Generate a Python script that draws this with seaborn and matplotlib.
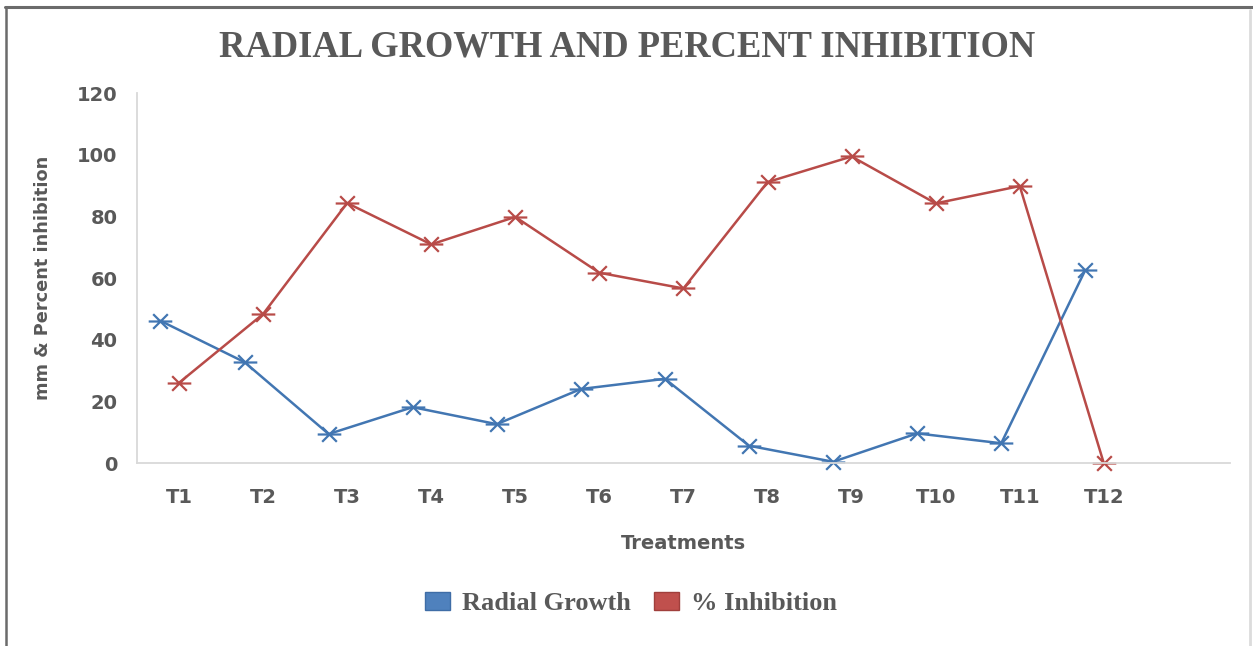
import numpy as np
import pandas as pd
import matplotlib
matplotlib.use("Agg")
import matplotlib.pyplot as plt
from matplotlib.path import Path
from matplotlib.patches import Patch
from matplotlib.lines import Line2D
import seaborn as sns

# Treatments and measured values
treatments = ["T1", "T2", "T3", "T4", "T5", "T6", "T7", "T8", "T9", "T10", "T11", "T12"]
radial_growth = [46.2, 32.8, 9.5, 18.2, 12.7, 24.1, 27.4, 5.7, 0.5, 9.7, 6.5, 62.7]
inhibition = [26.1, 48.4, 84.4, 71.0, 79.9, 61.8, 56.7, 91.2, 99.5, 84.3, 89.9, 0.0]
y_ticks = [0, 20, 40, 60, 80, 100, 120]

sns.set_theme(style="white")
plt.rcParams["font.family"] = ["DejaVu Sans"]

BLUE = "#4276b2"
RED = "#b84b48"
GREY = "#595959"

# Asterisk-style marker: an X crossed by a horizontal bar
star = Path(
    [(-0.62, -0.62), (0.62, 0.62), (-0.62, 0.62), (0.62, -0.62), (-1.0, 0.0), (1.0, 0.0)],
    [Path.MOVETO, Path.LINETO, Path.MOVETO, Path.LINETO, Path.MOVETO, Path.LINETO],
)

idx = np.arange(len(treatments))
growth_df = pd.DataFrame({"pos": idx - 0.22, "value": radial_growth})
inhib_df = pd.DataFrame({"pos": idx, "value": inhibition})

fig = plt.figure(figsize=(12.53, 6.46), dpi=100)
ax = fig.add_axes([0.1093, 0.2828, 0.8723, 0.5728])

line_kw = dict(linewidth=1.8, marker=star, markersize=17, markeredgewidth=1.6,
               markerfacecolor="none", legend=False)
sns.lineplot(data=growth_df, x="pos", y="value", color=BLUE, markeredgecolor=BLUE, ax=ax, **line_kw)
sns.lineplot(data=inhib_df, x="pos", y="value", color=RED, markeredgecolor=RED, ax=ax, **line_kw)

ax.set_xlim(-0.5, 12.5)
ax.set_ylim(0, 120)
ax.set_xticks(idx)
ax.set_xticklabels(treatments)
ax.set_yticks(y_ticks)
ax.tick_params(axis="both", length=0, labelsize=14, labelcolor=GREY)
ax.tick_params(axis="y", pad=14)
ax.tick_params(axis="x", pad=18)
for lab in ax.get_xticklabels() + ax.get_yticklabels():
    lab.set_fontweight("bold")

for side in ["top", "right"]:
    ax.spines[side].set_visible(False)
for side in ["left", "bottom"]:
    ax.spines[side].set_color("#d9d9d9")
    ax.spines[side].set_linewidth(1.3)
for ln in ax.lines:
    ln.set_clip_on(False)

ax.set_xlabel("Treatments", fontsize=14, fontweight="bold", color=GREY, labelpad=19)
ax.set_ylabel("mm & Percent inhibition", fontsize=12.8, fontweight="bold", color=GREY, labelpad=18)

fig.text(0.5005, 0.928, "RADIAL GROWTH AND PERCENT INHIBITION", ha="center", va="center",
         fontsize=26.3, fontweight="bold", color=GREY, family="Liberation Serif")

handles = [Patch(facecolor="#4f81bd", edgecolor="#3f6da6", label="Radial Growth"),
           Patch(facecolor="#c0504d", edgecolor="#a03f3c", label="% Inhibition")]
fig.legend(handles=handles, loc="center", bbox_to_anchor=(0.5036, 0.066), ncol=2, frameon=False,
           prop={"family": "Liberation Serif", "weight": "bold", "size": 19},
           labelcolor=GREY, handlelength=0.95, handleheight=0.7, handletextpad=0.45,
           columnspacing=0.87)

# Outer frame of the chart area
fig.add_artist(Line2D([0.004, 1.0], [0.989, 0.989], color="#6b6b6b", linewidth=2.2, transform=fig.transFigure))
fig.add_artist(Line2D([0.0045, 0.0045], [0.0, 0.989], color="#6b6b6b", linewidth=1.8, transform=fig.transFigure))
fig.add_artist(Line2D([0.998, 0.998], [0.0, 0.985], color="#dcdcdc", linewidth=2.0, transform=fig.transFigure))

fig.savefig("out.png", dpi=100, facecolor="white")
